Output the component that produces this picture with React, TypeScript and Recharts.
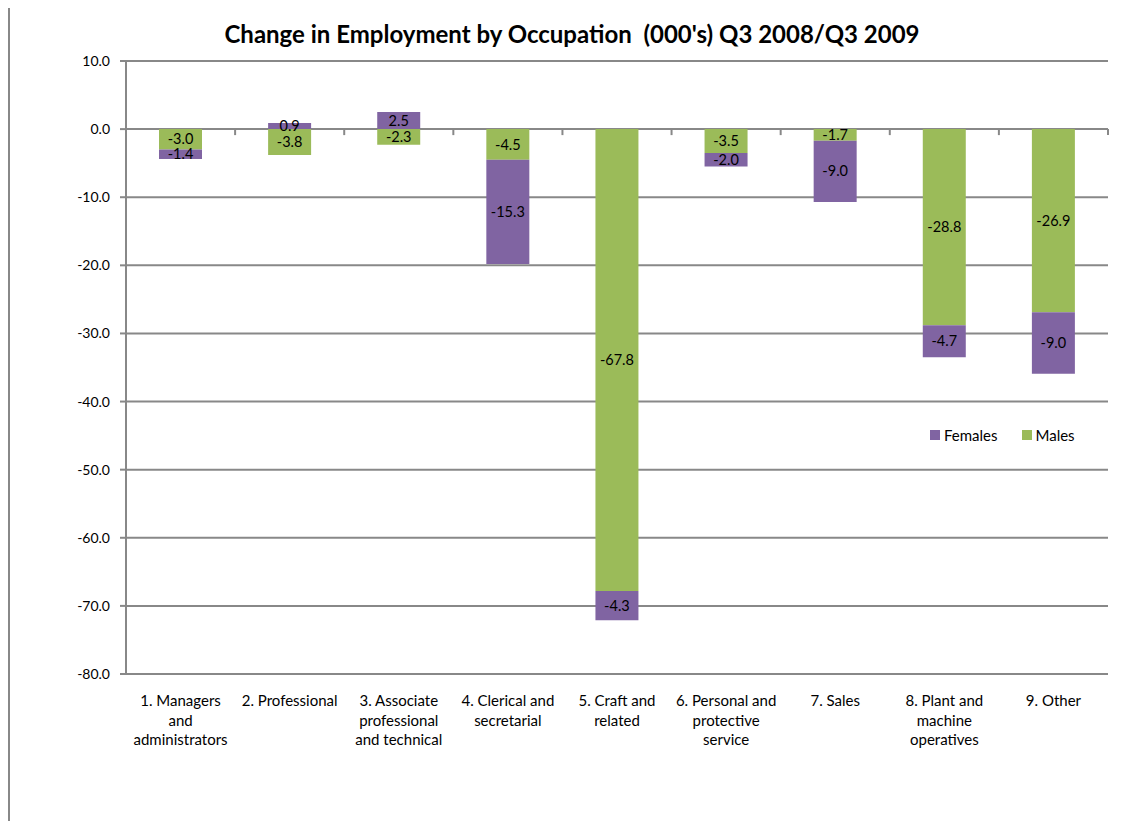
import React from 'react';
import {
  BarChart,
  Bar,
  XAxis,
  YAxis,
  CartesianGrid,
  LabelList,
  ReferenceLine,
} from 'recharts';

const categories = [
  '1. Managers\nand\nadministrators',
  '2. Professional',
  '3. Associate\nprofessional\nand technical',
  '4. Clerical and\nsecretarial',
  '5. Craft and\nrelated',
  '6. Personal and\nprotective\nservice',
  '7. Sales',
  '8. Plant and\nmachine\noperatives',
  '9. Other',
];

const males = [-3.0, -3.8, -2.3, -4.5, -67.8, -3.5, -1.7, -28.8, -26.9];
const females = [-1.4, 0.9, 2.5, -15.3, -4.3, -2.0, -9.0, -4.7, -9.0];

const yTicks = [10, 0, -10, -20, -30, -40, -50, -60, -70, -80];

const data = categories.map((name, i) => ({
  name,
  Males: males[i],
  Females: females[i],
}));

const PURPLE = '#8064A2';
const GREEN = '#9BBB59';
const GRID = '#888888';
const FONT = 'Lato, "Liberation Sans", sans-serif';

const CategoryTick = ({ x, y, payload }: any) => {
  const lines = String(payload.value).split('\n');
  return (
    <text x={x} y={y} textAnchor="middle" fontSize={15} fontFamily={FONT} fill="#000">
      {lines.map((line, i) => (
        <tspan key={i} x={x} dy={i === 0 ? 24 : 19.5}>
          {line}
        </tspan>
      ))}
    </text>
  );
};

// small marks between categories along the zero line
const ZeroTicks = (props: any) => {
  const { x1, x2, y1 } = props;
  const n = categories.length;
  const step = (x2 - x1) / n;
  return (
    <g>
      {Array.from({ length: n + 1 }).map((_, i) => (
        <line
          key={i}
          x1={x1 + step * i}
          x2={x1 + step * i}
          y1={y1}
          y2={y1 + 6}
          stroke={GRID}
          strokeWidth={2}
        />
      ))}
    </g>
  );
};

const legendItems = [
  { label: 'Females', color: PURPLE },
  { label: 'Males', color: GREEN },
];

const fmt = (v: any) => Number(v).toFixed(1);

export default function App() {
  return (
    <div style={{ position: 'relative', width: 1122, height: 813, overflow: 'hidden', background: '#fff' }}>
      <div
        style={{
          position: 'absolute',
          left: 0,
          top: -2,
          width: 1300,
          height: 1000,
          borderLeft: `2px solid ${GRID}`,
          borderTop: `2px solid ${GRID}`,
        }}
      />
      <div
        style={{
          position: 'absolute',
          left: 0,
          top: 11,
          width: 1128,
          textAlign: 'center',
          fontFamily: FONT,
          fontWeight: 'bold',
          fontSize: 24,
          color: '#000',
        }}
      >
        Change in Employment by Occupation&nbsp; (000's) Q3 2008/Q3 2009
      </div>
      <div style={{ position: 'absolute', left: 0, top: 0 }}>
        <BarChart
          width={1122}
          height={813}
          data={data}
          stackOffset="sign"
          barSize={43}
          margin={{ top: 53, right: 22, bottom: 47, left: 48 }}
        >
          <CartesianGrid vertical={false} stroke={GRID} strokeWidth={2} />
          <XAxis
            dataKey="name"
            height={100}
            axisLine={false}
            tickLine={false}
            interval={0}
            tick={<CategoryTick />}
          />
          <YAxis
            width={70}
            domain={[-80, 10]}
            ticks={yTicks}
            interval={0}
            tickFormatter={fmt}
            axisLine={{ stroke: GRID, strokeWidth: 2 }}
            tickLine={{ stroke: GRID, strokeWidth: 2 }}
            tickSize={6}
            tickMargin={10}
            tick={{ fill: '#000', fontSize: 14, fontFamily: FONT }}
          />
          <ReferenceLine y={0} stroke="none" shape={<ZeroTicks />} />
          <Bar dataKey="Males" stackId="a" fill={GREEN} isAnimationActive={false}>
            <LabelList dataKey="Males" position="center" formatter={fmt} fill="#000" fontSize={14.5} fontFamily={FONT} />
          </Bar>
          <Bar dataKey="Females" stackId="a" fill={PURPLE} isAnimationActive={false}>
            <LabelList dataKey="Females" position="center" formatter={fmt} fill="#000" fontSize={14.5} fontFamily={FONT} />
          </Bar>
        </BarChart>
      </div>
      <div
        style={{
          position: 'absolute',
          left: 922,
          top: 418,
          display: 'flex',
          fontFamily: FONT,
          fontSize: 15,
          color: '#000',
        }}
      >
        {legendItems.map((item) => (
          <div key={item.label} style={{ display: 'flex', alignItems: 'center', marginRight: 24 }}>
            <span style={{ width: 10, height: 10, background: item.color, marginRight: 4, display: 'inline-block' }} />
            <span>{item.label}</span>
          </div>
        ))}
      </div>
    </div>
  );
}
